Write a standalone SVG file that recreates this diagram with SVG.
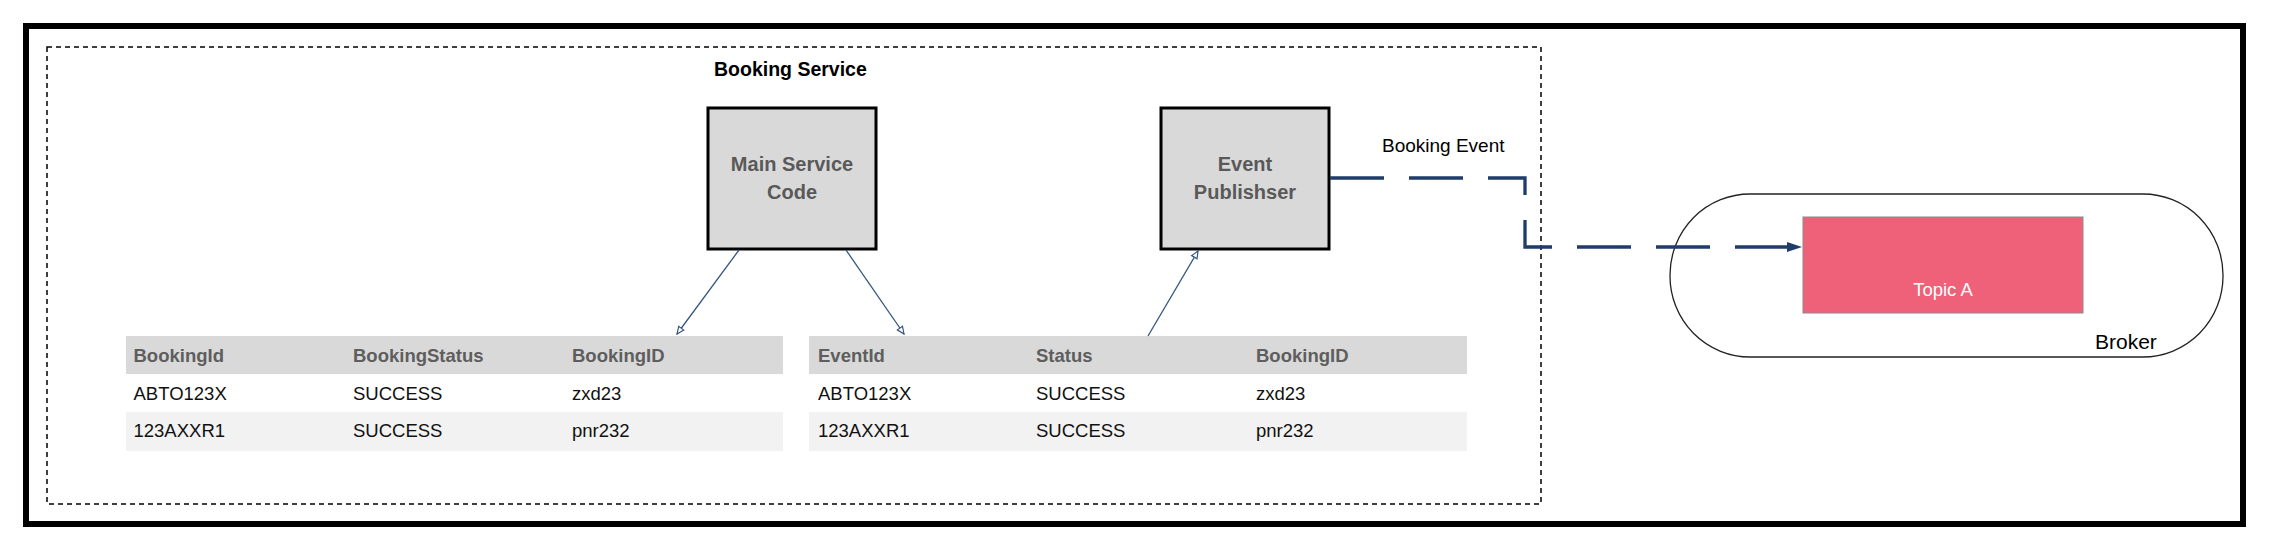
<svg xmlns="http://www.w3.org/2000/svg" width="2270" height="550" viewBox="0 0 2270 550">
<style>
.lbl{font-family:"Liberation Sans",Arial,sans-serif;}
.node{fill:#d9d9d9;stroke:#000;stroke-width:3;}
.ntxt{font-family:"Liberation Sans",Arial,sans-serif;font-weight:bold;font-size:20px;fill:#595959;text-anchor:middle;}
.hdr{fill:#d9d9d9;}
.alt{fill:#f2f2f2;}
.htxt{font-family:"Liberation Sans",Arial,sans-serif;font-weight:bold;font-size:18.5px;fill:#5e5e5e;}
.ctxt{font-family:"Liberation Sans",Arial,sans-serif;font-size:18.5px;fill:#111;}
.thin{stroke:#34567f;stroke-width:1.3;fill:none;}
</style>
<defs>
<marker id="openArrow" viewBox="0 0 10 10" refX="9" refY="5" markerWidth="9" markerHeight="9" markerUnits="userSpaceOnUse" orient="auto">
<path d="M1,1.5 L9,5 L1,8.5 Z" fill="#fff" stroke="#34567f" stroke-width="1.3"/>
</marker>
<marker id="solidArrow" viewBox="0 0 15 10" refX="15" refY="5" markerWidth="15" markerHeight="10" markerUnits="userSpaceOnUse" orient="auto">
<path d="M0,0 L15,5 L0,10 Z" fill="#1f3d6b"/>
</marker>
</defs>
<rect width="2270" height="550" fill="#fff"/>
<rect id="frame" x="26" y="26" width="2217" height="498" fill="#fff" stroke="#000" stroke-width="6"/>

<g id="booking-service">
<rect x="47" y="47" width="1494" height="457" fill="none" stroke="#000" stroke-width="1.5" stroke-dasharray="5 4"/>
<text class="lbl" x="714" y="76" font-size="19.5" font-weight="bold" fill="#000">Booking Service</text>
</g>

<g id="main-service-code">
<rect class="node" x="708" y="108" width="168" height="141"/>
<text class="ntxt" x="792" y="171">Main Service</text>
<text class="ntxt" x="792" y="199">Code</text>
</g>

<g id="event-publisher">
<rect class="node" x="1161" y="108" width="168" height="141"/>
<text class="ntxt" x="1245" y="171">Event</text>
<text class="ntxt" x="1245" y="199">Publishser</text>
</g>

<g id="booking-table">
<rect class="hdr" x="126" y="336" width="657" height="38"/>
<rect x="126" y="374" width="657" height="38" fill="#fff"/>
<rect class="alt" x="126" y="412" width="657" height="39"/>
<text class="htxt" x="133.5" y="361.5">BookingId</text>
<text class="htxt" x="353" y="361.5">BookingStatus</text>
<text class="htxt" x="572" y="361.5">BookingID</text>
<text class="ctxt" x="133.5" y="399.5">ABTO123X</text>
<text class="ctxt" x="353" y="399.5">SUCCESS</text>
<text class="ctxt" x="572" y="399.5">zxd23</text>
<text class="ctxt" x="133.5" y="437">123AXXR1</text>
<text class="ctxt" x="353" y="437">SUCCESS</text>
<text class="ctxt" x="572" y="437">pnr232</text>
</g>

<g id="event-table">
<rect class="hdr" x="809" y="336" width="658" height="38"/>
<rect x="809" y="374" width="658" height="38" fill="#fff"/>
<rect class="alt" x="809" y="412" width="658" height="39"/>
<text class="htxt" x="818" y="361.5">EventId</text>
<text class="htxt" x="1036" y="361.5">Status</text>
<text class="htxt" x="1256" y="361.5">BookingID</text>
<text class="ctxt" x="818" y="399.5">ABTO123X</text>
<text class="ctxt" x="1036" y="399.5">SUCCESS</text>
<text class="ctxt" x="1256" y="399.5">zxd23</text>
<text class="ctxt" x="818" y="437">123AXXR1</text>
<text class="ctxt" x="1036" y="437">SUCCESS</text>
<text class="ctxt" x="1256" y="437">pnr232</text>
</g>

<g id="broker">
<rect x="1670" y="194" width="553" height="163" rx="80" ry="81" fill="#fff" stroke="#222" stroke-width="1.3"/>
<text class="lbl" x="2095" y="349" font-size="21" fill="#000">Broker</text>
</g>

<g id="topic-a">
<rect x="1803" y="217" width="280" height="96" fill="#ee6179" stroke="#8a8a8a" stroke-width="1"/>
<text class="lbl" x="1943" y="296" font-size="18.5" fill="#fff" text-anchor="middle">Topic A</text>
</g>

<g id="connectors">
<line class="thin" x1="739" y1="250" x2="677" y2="334" marker-end="url(#openArrow)"/>
<line class="thin" x1="846" y1="250" x2="904" y2="334" marker-end="url(#openArrow)"/>
<line class="thin" x1="1148" y1="336" x2="1198" y2="251" marker-end="url(#openArrow)"/>
<path d="M1330,178 H1525 V247 H1802" fill="none" stroke="#1f3d6b" stroke-width="3.3" stroke-dasharray="54 25" marker-end="url(#solidArrow)"/>
<text class="lbl" x="1382" y="152" font-size="19" fill="#000">Booking Event</text>
</g>
</svg>
